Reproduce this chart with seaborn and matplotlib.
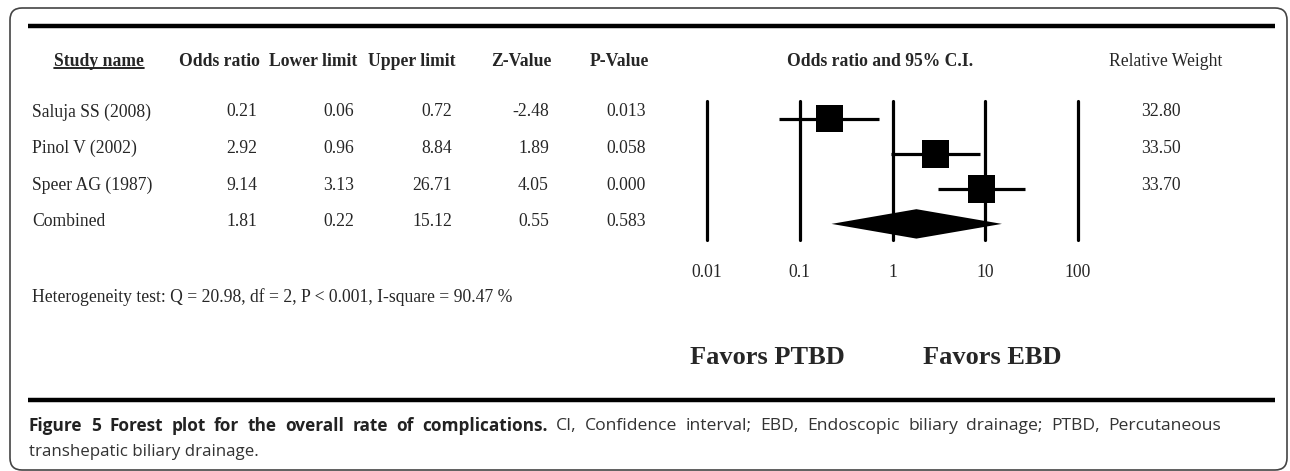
import numpy as np
import pandas as pd
import matplotlib
matplotlib.use('Agg')
import matplotlib.pyplot as plt
import seaborn as sns
from matplotlib.patches import FancyBboxPatch

# 데이터
studies = ['Saluja SS (2008)', 'Pinol V (2002)', 'Speer AG (1987)', 'Combined']
odds_ratio = [0.21, 2.92, 9.14, 1.81]
lower = [0.06, 0.96, 3.13, 0.22]
upper = [0.72, 8.84, 26.71, 15.12]
z_value = [-2.48, 1.89, 4.05, 0.55]
p_value = [0.013, 0.058, 0.000, 0.583]
weights = [32.80, 33.50, 33.70]
col_headers = ['Odds ratio', 'Lower limit', 'Upper limit', 'Z-Value', 'P-Value']
ticks = [0.01, 0.1, 1, 10, 100]
tick_labels = ['0.01', '0.1', '1', '10', '100']
heterogeneity = 'Heterogeneity test: Q = 20.98, df = 2, P < 0.001, I-square = 90.47 %'
caption_bold = 'Figure 5 Forest plot for the overall rate of complications.'
caption_rest = 'CI, Confidence interval; EBD, Endoscopic biliary drainage; PTBD, Percutaneous'
caption_line2 = 'transhepatic biliary drainage.'

sns.set_style('white')
plt.rcParams['font.family'] = ['Liberation Serif', 'DejaVu Serif']

W, H = 1290, 471
fig = plt.figure(figsize=(W / 100, H / 100), dpi=100)
ax = fig.add_axes([0, 0, 1, 1])
ax.set_xlim(0, W)
ax.set_ylim(H, 0)
ax.axis('off')

# 바깥 테두리, 굵은 선
box = FancyBboxPatch((10, 8), 1277, 462, boxstyle='round,pad=0,rounding_size=12',
                     fill=False, ec='#444444', lw=1.2)
ax.add_patch(box)
ax.plot([28, 1275], [26, 26], color='black', lw=3.2, solid_capstyle='butt')
ax.plot([28, 1275], [400, 400], color='black', lw=3.2, solid_capstyle='butt')

fs = 12.7
hdr_y = 61
row_y = [112, 148.5, 185, 222]
col_right = [257, 354, 452, 549, 646]

t_study = ax.text(99, hdr_y, 'Study name', ha='center', va='center', fontsize=fs, fontweight='bold')
for x, h in zip(col_right, col_headers):
    ax.text(x + 3, hdr_y, h, ha='right', va='center', fontsize=fs, fontweight='bold')
ax.text(880, hdr_y, 'Odds ratio and 95% C.I.', ha='center', va='center', fontsize=fs, fontweight='bold')
ax.text(1166, hdr_y, 'Relative Weight', ha='center', va='center', fontsize=fs)

for i, name in enumerate(studies):
    y = row_y[i]
    ax.text(32, y, name, ha='left', va='center', fontsize=fs)
    vals = ['%.2f' % odds_ratio[i], '%.2f' % lower[i], '%.2f' % upper[i],
            '%.2f' % z_value[i], '%.3f' % p_value[i]]
    for x, v in zip(col_right, vals):
        ax.text(x, y, v, ha='right', va='center', fontsize=fs)
    if i < len(weights):
        ax.text(1161, y, '%.2f' % weights[i], ha='center', va='center', fontsize=fs)

ax.text(32, 297, heterogeneity, ha='left', va='center', fontsize=fs)
ax.text(767, 357, 'Favors PTBD', ha='center', va='center', fontsize=19, fontweight='bold')
ax.text(992, 357, 'Favors EBD', ha='center', va='center', fontsize=19, fontweight='bold')

# 캡션 (첫 줄은 양쪽 정렬)
cap_font = ['Open Sans', 'DejaVu Sans']
fig.canvas.draw()
r = fig.canvas.get_renderer()
words = [(w, 'bold') for w in caption_bold.split()] + [(w, 'normal') for w in caption_rest.split()]
items = []
for w, wt in words:
    t = ax.text(0, 426, w, ha='left', va='center', fontsize=12.4 if wt == 'bold' else 12.6,
                fontweight=wt, family=cap_font, color='#222222' if wt == 'bold' else '#333333')
    items.append((t, t.get_window_extent(r).width))
total = sum(wd for _, wd in items)
x_start, x_stop = 29, 1221
gap = (x_stop - x_start - total) / (len(items) - 1)
x = x_start
for t, wd in items:
    t.set_x(x)
    x += wd + gap
ax.text(29, 452, caption_line2, ha='left', va='center', fontsize=12.2,
        family=cap_font, color='#333333')

# Study name 밑줄
inv = ax.transData.inverted()
bb = t_study.get_window_extent(r)
(x0, y0), (x1, _) = inv.transform([(bb.x0, bb.y0), (bb.x1, bb.y0)])
ax.plot([x0, x1], [y0 - 2, y0 - 2], color='black', lw=1.2)

# forest plot
fx = fig.add_axes([707 / W, 1 - 240 / H, (1078 - 707) / W, (240 - 101) / H])
fx.set_xscale('log')
fx.set_xlim(0.01, 100)
fx.set_ylim(3.46, -0.51)
fx.patch.set_alpha(0)
for t in ticks:
    fx.axvline(t, color='black', lw=2.3, clip_on=False)

df = pd.DataFrame({'or': odds_ratio[:3], 'lo': lower[:3], 'up': upper[:3],
                   'row': range(3), 'weight': weights})
fx.hlines(df['row'], df['lo'], df['up'], color='black', lw=2.3)
sns.scatterplot(data=df, x='or', y='row', size='weight', sizes=(380, 392), marker='s',
                color='black', edgecolor='black', linewidth=0, legend=False, ax=fx, zorder=3)

k = 3
hh = 0.42
fx.fill([lower[k], odds_ratio[k], upper[k], odds_ratio[k]], [k, k - hh, k, k + hh],
        color='black', lw=0, zorder=3)

fx.set_xticks(ticks, tick_labels)
fx.minorticks_off()
fx.set_yticks([])
fx.tick_params(axis='x', length=0, pad=17, labelsize=fs)
fx.set_xlabel('')
fx.set_ylabel('')
sns.despine(ax=fx, left=True, bottom=True)

fig.savefig('out.png', dpi=100)
